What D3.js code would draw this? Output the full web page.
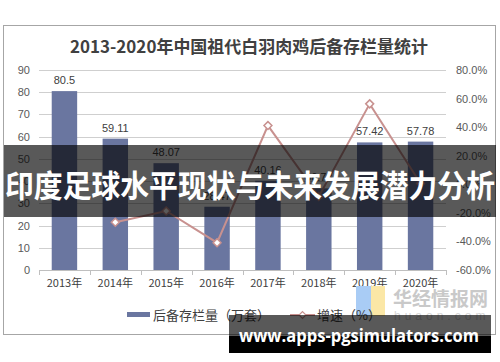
<!DOCTYPE html>
<html>
<head>
<meta charset="utf-8">
<script src="https://cdn.jsdelivr.net/npm/d3@7"></script>
<style>
  html, body { margin: 0; padding: 0; background: #fff; }
  svg { display: block; font-family: "Liberation Sans", Arial, sans-serif; }
</style>
</head>
<body>
<div id="chart"></div>
<script>
const years = ["2013年", "2014年", "2015年", "2016年", "2017年", "2018年", "2019年", "2020年"];
const stock = [80.5, 59.11, 48.07, 28.47, 40.16, 36.73, 57.42, 57.78];
const growth = [null, -26.6, -18.7, -40.9, 41.1, -8.5, 56.3, 0.6];
const leftTicks = [0, 10, 20, 30, 40, 50, 60, 70, 80, 90];
const rightTicks = [-60, -40, -20, 0, 20, 40, 60, 80];

const W = 500, H = 362;
const svg = d3.select("#chart").append("svg").attr("width", W).attr("height", H);

// frame
svg.append("rect").attr("x", 3.5).attr("y", 25.5).attr("width", 492).attr("height", 309)
  .attr("fill", "#fff").attr("stroke", "#a6a6a6");

svg.append("text").attr("x", 249).attr("y", 53).attr("text-anchor", "middle")
  .attr("font-family", "'Noto Sans CJK SC', sans-serif").attr("font-weight", "bold")
  .attr("font-size", 17).attr("fill", "#404040")
  .attr("textLength", 358).attr("lengthAdjust", "spacingAndGlyphs")
  .text("2013-2020年中国祖代白羽肉鸡后备存栏量统计");

const x = d3.scaleBand().domain(years).range([39, 446]).paddingInner(0.5).paddingOuter(0.25);
const y = d3.scaleLinear().domain([0, 90]).range([270, 70]);
const y2 = d3.scaleLinear().domain([-60, 80]).range([270, 70]);

// grid
svg.append("g").selectAll("line").data(leftTicks.filter(d => d > 0)).join("line")
  .attr("x1", 39).attr("x2", 446)
  .attr("y1", d => Math.round(y(d)) + 0.5).attr("y2", d => Math.round(y(d)) + 0.5)
  .attr("stroke", "#cfcfcf");

// left axis labels
svg.append("g").selectAll("text").data(leftTicks).join("text")
  .attr("x", 30).attr("y", d => y(d) + 4).attr("text-anchor", "end")
  .attr("font-size", 11).attr("fill", "#595959").text(d => d);

// right axis labels
svg.append("g").selectAll("text").data(rightTicks).join("text")
  .attr("x", 456).attr("y", d => y2(d) + 4)
  .attr("font-size", 11).attr("fill", "#595959").text(d => d.toFixed(1) + "%");

// bars
svg.append("g").selectAll("rect").data(stock).join("rect")
  .attr("x", (d, i) => x(years[i])).attr("width", x.bandwidth())
  .attr("y", d => y(d)).attr("height", d => y(0) - y(d))
  .attr("fill", "#6a76a0");

svg.append("g").selectAll("text").data(stock).join("text")
  .attr("x", (d, i) => x(years[i]) + x.bandwidth() / 2).attr("y", d => y(d) - 7)
  .attr("text-anchor", "middle").attr("font-size", 11).attr("fill", "#404040")
  .text(d => d);

// x axis
const xa = svg.append("g");
xa.append("line").attr("x1", 39).attr("x2", 446).attr("y1", 270.5).attr("y2", 270.5).attr("stroke", "#bfbfbf");
xa.selectAll(".tk").data(d3.range(years.length + 1)).join("line")
  .attr("x1", i => Math.round(39 + i * x.step()) + 0.5).attr("x2", i => Math.round(39 + i * x.step()) + 0.5)
  .attr("y1", 270).attr("y2", 275).attr("stroke", "#bfbfbf");
xa.selectAll("text").data(years).join("text")
  .attr("x", d => x(d) + x.bandwidth() / 2).attr("y", 287)
  .attr("text-anchor", "middle").attr("font-size", 11).attr("fill", "#404040")
  .attr("font-family", "'Noto Sans CJK SC', sans-serif").text(d => d);

// growth line
const pts = growth.map((g, i) => ({ g, i })).filter(d => d.g !== null);
const cx = d => x(years[d.i]) + x.bandwidth() / 2;
svg.append("path").datum(pts)
  .attr("d", d3.line().x(cx).y(d => y2(d.g)))
  .attr("fill", "none").attr("stroke", "#c8918f").attr("stroke-width", 2);
svg.append("g").selectAll("path").data(pts).join("path")
  .attr("d", d3.symbol(d3.symbolDiamond2, 40))
  .attr("transform", d => `translate(${cx(d)},${y2(d.g)})`)
  .attr("fill", "#fff").attr("stroke", "#c8918f").attr("stroke-width", 1.5);

// watermark
const wm = svg.append("g");
wm.append("rect").attr("x", 356).attr("y", 286).attr("width", 15).attr("height", 30).attr("fill", "#a9ccf5");
wm.append("rect").attr("x", 371).attr("y", 286).attr("width", 14).attr("height", 30).attr("fill", "#fbe7a6");
wm.append("text").attr("x", 393).attr("y", 306).attr("font-size", 19).attr("fill", "#c9c9c9")
  .attr("font-family", "'Noto Sans CJK SC', sans-serif").attr("font-weight", "bold").text("华经情报网");
wm.append("text").attr("x", 394).attr("y", 320).attr("font-size", 12).attr("fill", "#d6d6d6")
  .attr("letter-spacing", 4).text("huaon.com");

// legend
const lg = svg.append("g").attr("font-family", "'Noto Sans CJK SC', sans-serif").attr("font-size", 13).attr("fill", "#404040");
lg.append("rect").attr("x", 127).attr("y", 312).attr("width", 23).attr("height", 5).attr("fill", "#6a76a0");
lg.append("text").attr("x", 153).attr("y", 320).text("后备存栏量（万套）");
lg.append("line").attr("x1", 290).attr("x2", 315).attr("y1", 315).attr("y2", 315).attr("stroke", "#c8918f").attr("stroke-width", 2);
lg.append("path").attr("d", d3.symbol(d3.symbolDiamond2, 30)).attr("transform", "translate(302.5,315)")
  .attr("fill", "#fff").attr("stroke", "#c8918f").attr("stroke-width", 1.2);
lg.append("text").attr("x", 317).attr("y", 320).text("增速（%）");

// overlay banner
svg.append("rect").attr("x", 4).attr("y", 145).attr("width", 492).attr("height", 72).attr("fill", "rgba(0,0,0,0.65)");
svg.append("text").attr("x", 250).attr("y", 197).attr("text-anchor", "middle")
  .attr("font-family", "'Noto Sans CJK SC', sans-serif").attr("font-weight", "bold")
  .attr("font-size", 31).attr("fill", "#fff")
  .attr("textLength", 490).attr("lengthAdjust", "spacingAndGlyphs")
  .text("印度足球水平现状与未来发展潜力分析");

// url banner
svg.append("rect").attr("x", 229).attr("y", 315).attr("width", 262).attr("height", 21).attr("fill", "rgba(0,0,0,0.65)");
svg.append("rect").attr("x", 229).attr("y", 336).attr("width", 262).attr("height", 17).attr("fill", "#000");
svg.append("text").attr("x", 239).attr("y", 342)
  .attr("font-family", "'Open Sans', sans-serif").attr("font-weight", "bold")
  .attr("font-size", 17).attr("fill", "#fff")
  .attr("textLength", 240).attr("lengthAdjust", "spacingAndGlyphs")
  .text("www.apps-pgsimulators.com");
</script>
</body>
</html>
